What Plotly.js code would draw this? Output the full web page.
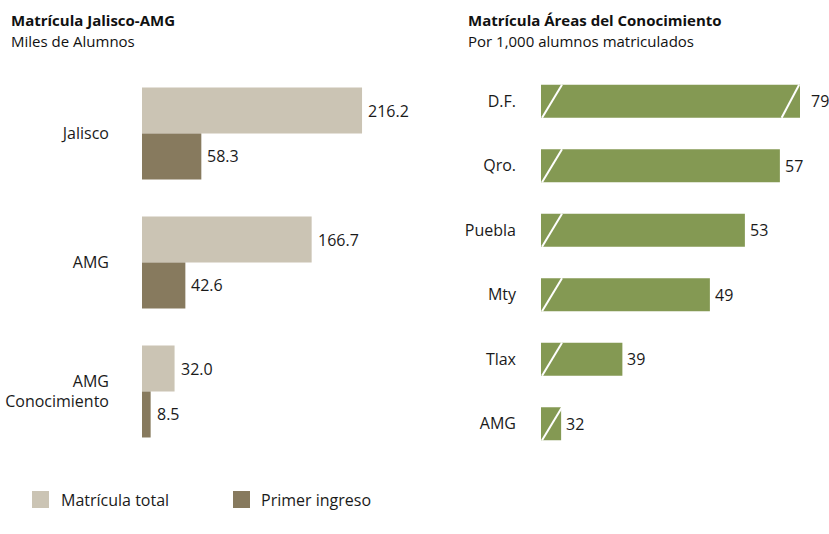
<!DOCTYPE html>
<html>
<head>
<meta charset="utf-8">
<script src="https://cdn.plot.ly/plotly-3.0.1.min.js"></script>
<style>html,body{margin:0;padding:0;background:#fff}#chart{width:829px;height:534px}</style>
</head>
<body>
<div id="chart"></div>
<script>
// ---- Data ----
const leftCategories = ['Jalisco', 'AMG', 'AMG<br>Conocimiento'];
const matriculaTotal = [216.2, 166.7, 32.0];
const primerIngreso = [58.3, 42.6, 8.5];

const rightCategories = ['D.F.', 'Qro.', 'Puebla', 'Mty', 'Tlax', 'AMG'];
const porMil = [79, 57, 53, 49, 39, 32];

const leftTitle = 'Matrícula Jalisco-AMG';
const leftSubtitle = 'Miles de Alumnos';
const rightTitle = 'Matrícula Áreas del Conocimiento';
const rightSubtitle = 'Por 1,000 alumnos matriculados';
const legendLabels = ['Matrícula total', 'Primer ingreso'];

// ---- Styles ----
const W = 829, H = 534;
const FONT = '"Open Sans", "Noto Sans", sans-serif';
const C_TOTAL = '#cbc4b4', C_PRIMER = '#877a5e', C_GREEN = '#849953';
const X2MIN = 29.7, X2MAX = 59.3; // broken axis on the right chart
const px = v => v / W, py = v => 1 - v / H;

const traces = [
  {type: 'bar', orientation: 'h', y: leftCategories, x: matriculaTotal, name: legendLabels[0],
   marker: {color: C_TOTAL}, xaxis: 'x', yaxis: 'y', hoverinfo: 'none'},
  {type: 'bar', orientation: 'h', y: leftCategories, x: primerIngreso, name: legendLabels[1],
   marker: {color: C_PRIMER}, xaxis: 'x', yaxis: 'y', hoverinfo: 'none'},
  {type: 'bar', orientation: 'h', y: rightCategories, x: porMil, name: 'Por 1,000',
   marker: {color: C_GREEN}, xaxis: 'x2', yaxis: 'y2', hoverinfo: 'none', width: 0.512}
];

const annotations = [];
const shapes = [];
const lblFont = {family: FONT, size: 16, color: '#1a1a1a'};

// value labels left (grouped: offset by half of group)
const grpHalf = 0.713 / 4;
matriculaTotal.forEach((v, i) => annotations.push({xref: 'x', yref: 'y', x: v, y: i - grpHalf,
  text: v.toFixed(1), showarrow: false, xanchor: 'left', xshift: 4, font: lblFont}));
primerIngreso.forEach((v, i) => annotations.push({xref: 'x', yref: 'y', x: v, y: i + grpHalf,
  text: v.toFixed(1), showarrow: false, xanchor: 'left', xshift: 4, font: lblFont}));

// value labels right + break slashes
const hb = 0.256;
porMil.forEach((v, i) => {
  const broken = v > X2MAX;
  annotations.push({xref: 'x2', yref: 'y2', x: Math.min(v, X2MAX), y: i, text: String(v),
    showarrow: false, xanchor: 'left', xshift: broken ? 9 : 3, font: lblFont});
  shapes.push({type: 'line', xref: 'x2', yref: 'y2', x0: X2MIN + 0.12, y0: i + hb, x1: X2MIN + 2.4, y1: i - hb,
    line: {color: '#ffffff', width: 2}});
  if (broken) shapes.push({type: 'line', xref: 'x2', yref: 'y2', x0: X2MAX - 2.1, y0: i + hb, x1: X2MAX - 0.1, y1: i - hb,
    line: {color: '#ffffff', width: 2}});
});

// titles
annotations.push({xref: 'paper', yref: 'paper', x: px(9), y: py(20), xanchor: 'left', yanchor: 'middle',
  text: '<b>' + leftTitle + '</b>', showarrow: false, font: {family: FONT, size: 15, color: '#111'}});
annotations.push({xref: 'paper', yref: 'paper', x: px(9), y: py(41), xanchor: 'left', yanchor: 'middle',
  text: leftSubtitle, showarrow: false, font: {family: FONT, size: 15, color: '#111'}});
annotations.push({xref: 'paper', yref: 'paper', x: px(466), y: py(20), xanchor: 'left', yanchor: 'middle',
  text: '<b>' + rightTitle + '</b>', showarrow: false, font: {family: FONT, size: 15, color: '#111'}});
annotations.push({xref: 'paper', yref: 'paper', x: px(466), y: py(41), xanchor: 'left', yanchor: 'middle',
  text: rightSubtitle, showarrow: false, font: {family: FONT, size: 15, color: '#111'}});

// custom legend
const legX = [32, 233], legTX = [59, 259], legColors = [C_TOTAL, C_PRIMER];
legendLabels.forEach((t, k) => {
  shapes.push({type: 'rect', xref: 'paper', yref: 'paper', x0: px(legX[k]), x1: px(legX[k] + 17),
    y0: py(508), y1: py(491), fillcolor: legColors[k], line: {width: 0}});
  annotations.push({xref: 'paper', yref: 'paper', x: px(legTX[k]), y: py(500), xanchor: 'left', yanchor: 'middle',
    text: t, showarrow: false, font: {family: FONT, size: 16, color: '#1a1a1a'}});
});

const yDom = [1 - 456 / H, 1 - 69 / H];
const layout = {
  width: W, height: H, margin: {l: 0, r: 0, t: 0, b: 0},
  paper_bgcolor: '#fff', plot_bgcolor: 'rgba(0,0,0,0)',
  showlegend: false, barmode: 'group', bargap: 0.287, bargroupgap: 0,
  font: {family: FONT, size: 16, color: '#1a1a1a'},
  xaxis: {domain: [px(142), px(400)], range: [0, 253.5], visible: false, fixedrange: true},
  yaxis: {domain: yDom, type: 'category', range: [2.5, -0.5], showgrid: false, zeroline: false,
    showline: false, ticks: '', ticklabelstandoff: 32, tickfont: lblFont, fixedrange: true},
  xaxis2: {domain: [px(541), px(800)], range: [X2MIN, X2MAX], visible: false, fixedrange: true, anchor: 'y2'},
  yaxis2: {domain: yDom, type: 'category', anchor: 'x2', range: [5.5, -0.5], showgrid: false, zeroline: false,
    showline: false, ticks: '', ticklabelstandoff: 24, tickfont: lblFont, fixedrange: true},
  annotations: annotations, shapes: shapes
};

Plotly.newPlot('chart', traces, layout, {displayModeBar: false, staticPlot: true});
</script>
</body>
</html>
